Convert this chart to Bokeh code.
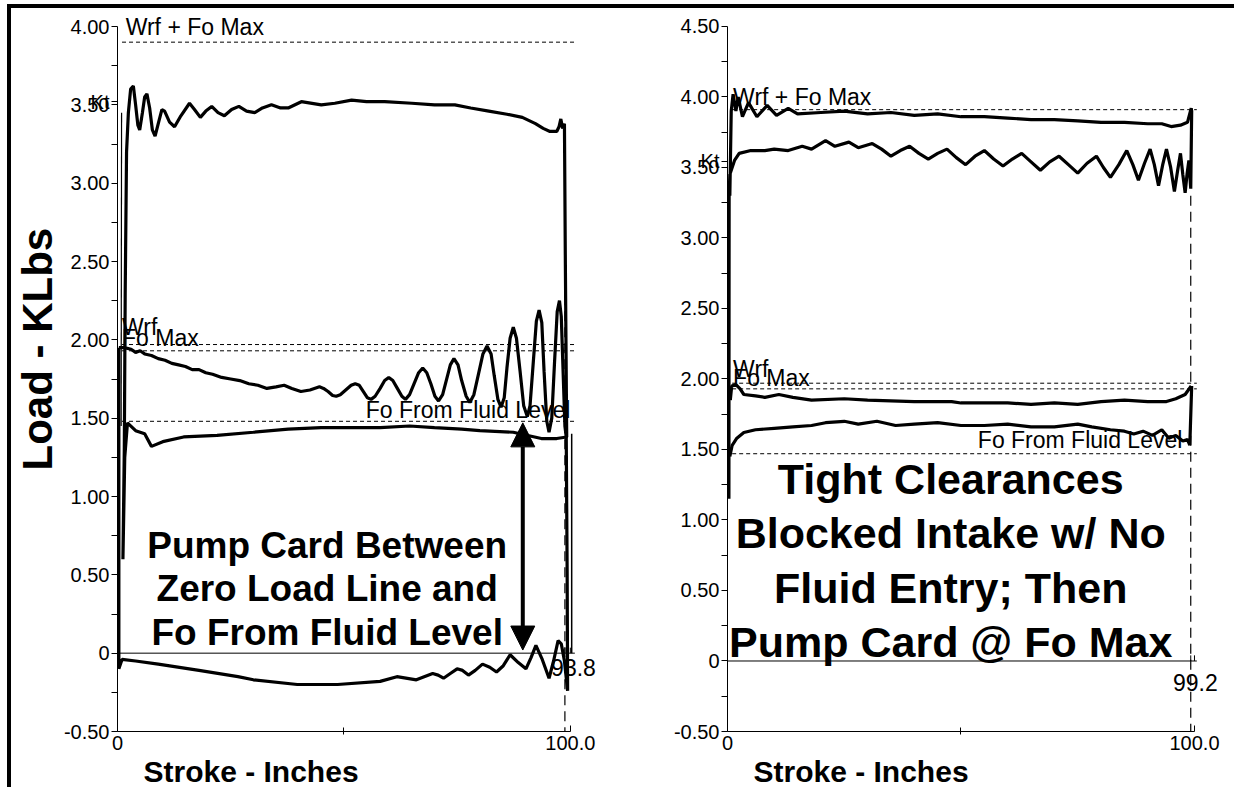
from bokeh.plotting import figure
from bokeh.layouts import row, column
from bokeh.models import (Range1d, FixedTicker, CustomJSTickFormatter, Label, Title,
                          Arrow, NormalHead, Div)
from bokeh.embed import file_html
from bokeh.resources import INLINE

FONT = "Liberation Sans"

# ---------------- Left chart data ----------------
left_y_ticks = [-0.5, 0.0, 0.5, 1.0, 1.5, 2.0, 2.5, 3.0, 3.5, 4.0]
left_y_minor = [-0.25, 0.25, 0.75, 1.25, 1.75, 2.25, 2.75, 3.25, 3.75]
x_ticks = [0, 100]
x_minor = [50]
left_kt_level = 3.52

# Outer card (Kt): upstroke then downstroke
left_kt_x = [1.2, 1.5, 1.7, 2.0, 2.4, 2.9, 3.5, 4.0, 4.5, 4.9, 5.5, 6.0, 6.5, 7.1, 7.7, 8.3,
             9.0, 9.8, 10.4, 11.5, 12.6, 14.0, 15.9, 17.0, 18.3, 19.5, 20.8, 22.2, 23.6, 25.2,
             26.8, 28.5, 30.3, 32.0, 34.0, 36.0, 37.7, 40.6, 45.0, 48.0, 51.7, 55.0, 59.0,
             65.0, 70.0, 74.5, 78.0, 82.0, 86.0, 89.4, 92.3, 94.0, 95.5, 97.0, 97.5, 97.9,
             98.3, 98.7, 98.9, 99.2,
             97.0, 93.6, 87.4, 80.0, 76.0, 70.0, 64.5, 58.0, 53.0, 45.0, 37.7, 30.0, 22.0,
             14.6, 10.0, 7.5, 6.0, 4.0, 2.2, 1.6, 1.2]
left_kt_y = [0.6, 1.3, 2.3, 3.2, 3.45, 3.6, 3.62, 3.5, 3.37, 3.34, 3.45, 3.55, 3.57, 3.48, 3.34,
             3.30, 3.38, 3.47, 3.46, 3.39, 3.36, 3.43, 3.51, 3.47, 3.42, 3.46, 3.49, 3.45, 3.43,
             3.47, 3.49, 3.46, 3.45, 3.48, 3.50, 3.48, 3.48, 3.52, 3.50, 3.51, 3.53, 3.52,
             3.52, 3.51, 3.50, 3.50, 3.48, 3.46, 3.44, 3.42, 3.38, 3.35, 3.33, 3.33, 3.36,
             3.41, 3.35, 3.38, 2.5, 1.38,
             1.37, 1.37, 1.41, 1.42, 1.43, 1.44, 1.45, 1.44, 1.44, 1.44, 1.43, 1.41, 1.39,
             1.38, 1.35, 1.32, 1.40, 1.42, 1.47, 1.25, 0.6]
left_kt_thin_x = [0.8, 0.9]
left_kt_thin_y = [1.45, 3.45]

# Pump card (Wrf): upstroke then downstroke
left_pump_x = [0.3, 1.5, 3.0, 4.0, 5.0, 6.0, 7.5, 9.0, 10.5, 12.0, 13.5, 15.0, 16.5, 18.0,
               19.5, 21.0, 23.0, 25.0, 27.0, 29.0, 31.0, 33.0, 35.0, 36.8, 38.5, 40.5, 42.5,
               44.6, 45.5, 46.5, 47.5, 48.3, 49.2, 50.4, 51.6, 52.5,
               53.4, 54.3, 55.2, 56.0, 56.9, 58.0, 59.0, 59.9,
               60.8, 61.8, 62.8, 63.6, 64.5, 65.5, 66.5, 67.4,
               68.3, 69.2, 70.1, 70.9, 71.8, 72.6, 73.5, 74.3,
               75.2, 76.0, 77.0, 77.8, 78.7, 79.7, 80.7, 81.6,
               82.5, 83.2, 84.0, 84.7, 85.4, 86.0, 86.7, 87.4,
               88.1, 88.9, 89.7, 90.5, 91.1, 91.8, 92.5, 93.1,
               93.7, 94.2, 94.8, 95.3, 95.9, 96.5, 97.1, 97.6,
               98.0, 98.4, 98.8, 99.1, 99.3, 99.4,
               98.7, 98.0, 97.3, 96.3, 95.3, 93.8, 92.4, 91.3, 90.2, 88.5, 86.7, 85.2, 83.7,
               82.2, 80.6, 79.0, 77.5, 76.2, 75.0, 73.5, 72.0, 70.8, 69.6, 66.0,
               61.7, 58.0, 48.6, 39.7, 30.0, 26.6, 18.0, 9.0, 4.0, 1.0, 0.3, 0.3]
left_pump_y = [1.95, 1.95, 1.94, 1.92, 1.93, 1.91, 1.90, 1.88, 1.87, 1.85, 1.84, 1.83, 1.81, 1.81,
               1.79, 1.78, 1.76, 1.75, 1.74, 1.72, 1.71, 1.69, 1.70, 1.71, 1.69, 1.67, 1.68,
               1.70, 1.69, 1.67, 1.645, 1.64, 1.65, 1.68, 1.71, 1.72,
               1.71, 1.67, 1.63, 1.62, 1.64, 1.69, 1.74, 1.76,
               1.74, 1.69, 1.64, 1.62, 1.65, 1.72, 1.79, 1.82,
               1.79, 1.72, 1.64, 1.61, 1.65, 1.74, 1.84, 1.88,
               1.84, 1.74, 1.64, 1.60, 1.65, 1.78, 1.91, 1.96,
               1.91, 1.77, 1.62, 1.57, 1.63, 1.82, 2.01, 2.08,
               2.01, 1.80, 1.58, 1.51, 1.58, 1.85, 2.12, 2.19,
               2.11, 1.80, 1.48, 1.41, 1.50, 1.85, 2.18, 2.25,
               2.15, 1.80, 1.45, 1.38, 0.5, -0.24,
               -0.05, 0.06, 0.08, -0.05, -0.16, -0.04, 0.05, -0.03, -0.10, -0.06, -0.01,
               -0.08, -0.12, -0.09, -0.07, -0.11, -0.14, -0.11, -0.10, -0.13, -0.16, -0.14,
               -0.13, -0.17, -0.15, -0.18, -0.20, -0.20, -0.17, -0.15, -0.11, -0.07, -0.05,
               -0.04, -0.10, 1.95]
left_thin_right_x = [100.3, 100.3]
left_thin_right_y = [0.0, 1.4]

left_wrf_fomax = 3.90
left_wrf = 1.97
left_fomax = 1.93
left_fo_fluid = 1.48
left_marker = 98.8
left_marker_label = "93.8"
left_zero_ticks = [98.8, 100.0]

# ---------------- Right chart data ----------------
right_y_ticks = [-0.5, 0.0, 0.5, 1.0, 1.5, 2.0, 2.5, 3.0, 3.5, 4.0, 4.5]
right_y_minor = [-0.25, 0.25, 0.75, 1.25, 1.75, 2.25, 2.75, 3.25, 3.75, 4.25]
right_kt_level = 3.545

right_top_x = [0.5, 0.8, 1.2, 1.8, 2.3, 3.2, 4.5, 6.3, 8.5, 10.5, 13.0, 15.0, 20.0, 25.0, 30.0,
               35.0, 40.0, 45.0, 50.0, 55.0, 60.0, 65.0, 70.0, 75.0, 80.0, 85.0, 90.0, 93.0,
               95.0, 97.0, 98.5, 99.3]
right_top_y = [3.30, 3.90, 4.02, 3.90, 4.00, 3.86, 3.96, 3.86, 3.94, 3.87, 3.92, 3.88, 3.89, 3.90,
               3.88, 3.89, 3.87, 3.88, 3.86, 3.86, 3.85, 3.84, 3.84, 3.83, 3.82, 3.82, 3.81,
               3.81, 3.79, 3.80, 3.82, 3.92]
right_osc_x = [99.4, 99.2, 99.0, 98.8, 98.4, 98.0, 97.5, 97.0, 96.4, 95.7, 94.9, 94.0, 93.2,
               92.3, 91.4, 90.5, 89.3, 88.0, 86.8, 85.5, 83.8, 82.0, 80.5, 79.0, 77.0, 75.0,
               73.0, 71.0, 69.0, 67.0, 65.0, 63.0, 61.0, 59.0, 57.0, 55.0, 53.0, 51.0, 49.0,
               47.0, 45.0, 43.0, 41.0, 39.0, 37.0, 35.0, 33.0, 31.0, 28.0, 26.0, 23.0, 21.0,
               18.0, 16.0, 13.0, 10.0, 8.0, 5.0, 2.5, 1.5, 0.5, 0.35, 0.3]
right_osc_y = [3.90, 3.35, 3.45, 3.55, 3.45, 3.32, 3.45, 3.60, 3.48, 3.33, 3.50, 3.63, 3.52,
               3.37, 3.52, 3.63, 3.53, 3.41, 3.52, 3.62, 3.52, 3.43, 3.50, 3.58, 3.53, 3.46,
               3.52, 3.58, 3.54, 3.48, 3.54, 3.60, 3.56, 3.51, 3.56, 3.62, 3.58, 3.52, 3.57,
               3.63, 3.60, 3.56, 3.60, 3.65, 3.62, 3.58, 3.63, 3.67, 3.64, 3.68, 3.65, 3.69,
               3.63, 3.65, 3.62, 3.63, 3.62, 3.62, 3.60, 3.55, 3.45, 3.30, 1.15]
right_wrf_x = [0.6, 0.9, 1.8, 2.7, 3.5, 6.0, 8.0, 11.0, 14.0, 18.0, 25.0, 30.0, 40.0, 48.0,
               50.0, 60.0, 65.0, 70.0, 75.0, 80.0, 85.0, 90.0, 94.0, 96.0, 98.0, 99.3]
right_wrf_y = [1.85, 1.95, 1.96, 1.93, 1.89, 1.88, 1.87, 1.89, 1.87, 1.85, 1.86, 1.85, 1.84,
               1.84, 1.83, 1.83, 1.82, 1.83, 1.82, 1.84, 1.85, 1.84, 1.84, 1.86, 1.89, 1.95]
right_fo_x = [0.5, 1.0, 2.0, 3.5, 6.0, 10.0, 14.0, 18.0, 21.0, 25.0, 28.0, 32.0, 36.0, 40.0,
              45.0, 50.0, 55.0, 60.0, 65.0, 70.0, 75.0, 78.0, 82.0, 85.0, 87.0, 89.0, 91.0,
              93.0, 94.5, 96.0, 97.5, 98.5, 99.0, 99.4]
right_fo_y = [1.45, 1.53, 1.58, 1.62, 1.64, 1.65, 1.66, 1.67, 1.69, 1.70, 1.68, 1.70, 1.67,
              1.68, 1.69, 1.67, 1.67, 1.68, 1.66, 1.66, 1.68, 1.66, 1.64, 1.63, 1.61, 1.63,
              1.60, 1.64, 1.58, 1.60, 1.56, 1.57, 1.53, 1.95]

right_wrf_fomax = 3.91
right_wrf = 1.97
right_fomax = 1.93
right_fo_fluid = 1.47
right_marker = 99.2
right_marker_label = "99.2"
right_zero_ticks = [99.2, 100.0]

left_note = ["Pump Card Between", "Zero Load Line and", "Fo From Fluid Level"]
right_note = ["Tight Clearances", "Blocked Intake w/ No", "Fluid Entry; Then", "Pump Card @ Fo Max"]

FIG_H = 779


def make_fig(width, ytop, ymax, yticks, yminor, kt_level, bl, br, show_ylabel):
    p = figure(width=width, height=FIG_H, output_backend="svg", toolbar_location=None,
               x_range=Range1d(0, 106), y_range=Range1d(-0.5, ytop),
               min_border_left=bl, min_border_right=br, min_border_top=5,
               min_border_bottom=0)
    p.grid.visible = False
    p.outline_line_color = None
    p.background_fill_color = "white"
    p.border_fill_color = "white"

    ya = p.yaxis[0]
    ya.bounds = (-0.5, ymax)
    ya.ticker = FixedTicker(ticks=yticks + [kt_level], minor_ticks=yminor)
    ya.formatter = CustomJSTickFormatter(
        args=dict(kt=kt_level),
        code="if (Math.abs(tick - kt) < 1e-6) { return 'Kt'; } return tick == 0 ? '0' : tick.toFixed(2);")
    ya.major_tick_in = 0
    ya.major_tick_out = 6
    ya.minor_tick_in = 0
    ya.minor_tick_out = 6
    ya.major_label_text_font = FONT
    ya.major_label_text_font_size = "20px"
    ya.major_label_text_color = "black"
    ya.major_label_standoff = 2
    ya.axis_line_color = "black"
    ya.major_tick_line_color = "black"
    ya.minor_tick_line_color = "black"
    if show_ylabel:
        p.add_layout(Title(text="Load - KLbs", align="left", offset=261, standoff=0,
                           text_font=FONT, text_font_style="bold", text_font_size="42px",
                           text_color="black"), "left")

    xa = p.xaxis[0]
    xa.bounds = (0, 100)
    xa.ticker = FixedTicker(ticks=x_ticks, minor_ticks=x_minor)
    xa.formatter = CustomJSTickFormatter(code="return tick == 0 ? '0' : tick.toFixed(1);")
    xa.major_tick_in = 6
    xa.major_tick_out = 0
    xa.minor_tick_in = 4
    xa.minor_tick_out = 3
    xa.major_label_text_font = FONT
    xa.major_label_text_font_size = "20px"
    xa.major_label_text_color = "black"
    xa.major_label_standoff = 1
    xa.axis_line_color = "black"
    p.add_layout(Title(text="Stroke - Inches", align="left", offset=26, standoff=0,
                       text_font=FONT, text_font_style="bold", text_font_size="30px",
                       text_color="black"), "below")
    return p


def hline(p, y, x0, x1, dash=None):
    kw = dict(line_color="black", line_width=1)
    if dash:
        kw["line_dash"] = dash
    p.segment(x0=[x0], y0=[y], x1=[x1], y1=[y], **kw)


def lab(p, x, y, text, align="left", size="23px", bold=False):
    p.add_layout(Label(x=x, y=y, text=text, text_align=align, text_baseline="middle",
                       text_font=FONT, text_font_size=size, text_color="black",
                       text_font_style="bold" if bold else "normal"))


# ---------------- Left figure ----------------
p1 = make_fig(605, 4.083, 4.0, left_y_ticks, left_y_minor, left_kt_level, 106, 19, True)
hline(p1, 0.0, 0, 101)
p1.segment(x0=left_zero_ticks, y0=[0.0] * len(left_zero_ticks), x1=left_zero_ticks,
           y1=[0.035] * len(left_zero_ticks), line_color="black", line_width=1)
for v in (left_wrf_fomax, left_wrf, left_fomax, left_fo_fluid):
    hline(p1, v, 1.0, 101, "4 3")
p1.segment(x0=[left_marker], y0=[3.0], x1=[left_marker], y1=[-0.5], line_color="black",
           line_width=1.2, line_dash="10 6")
p1.line(left_kt_x, left_kt_y, line_color="black", line_width=3.2)
p1.line(left_pump_x, left_pump_y, line_color="black", line_width=3.2)
p1.line(left_kt_thin_x, left_kt_thin_y, line_color="black", line_width=1.2)
p1.line(left_thin_right_x, left_thin_right_y, line_color="black", line_width=1.5)

lab(p1, 1.8, 4.0, "Wrf + Fo Max")
lab(p1, 1.0, 2.08, "Wrf")
lab(p1, 1.0, 2.01, "Fo Max")
lab(p1, 100.0, 1.55, "Fo From Fluid Level", align="right")
lab(p1, 100.7, -0.09, left_marker_label, align="center")
for i, t in enumerate(left_note):
    lab(p1, 46.3, 0.69 - i * 0.28, t, align="center", size="37px", bold=True)

p1.add_layout(Arrow(x_start=89.5, y_start=0.02, x_end=89.5, y_end=1.47,
                    line_color="black", line_width=4,
                    start=NormalHead(size=24, fill_color="black", line_color="black"),
                    end=NormalHead(size=24, fill_color="black", line_color="black")))

# ---------------- Right figure ----------------
p2 = make_fig(607, 4.592, 4.5, right_y_ticks, right_y_minor, right_kt_level, 111, 1, False)
hline(p2, 0.0, 0, 100.5)
p2.segment(x0=right_zero_ticks, y0=[0.0] * len(right_zero_ticks), x1=right_zero_ticks,
           y1=[0.04] * len(right_zero_ticks), line_color="black", line_width=1)
for v in (right_wrf_fomax, right_wrf, right_fomax, right_fo_fluid):
    hline(p2, v, 1.0, 100.5, "4 3")
p2.segment(x0=[right_marker], y0=[3.3], x1=[right_marker], y1=[-0.5], line_color="black",
           line_width=1.2, line_dash="10 6")
p2.line(right_top_x + right_osc_x, right_top_y + right_osc_y, line_color="black", line_width=3.2)
p2.line(right_wrf_x, right_wrf_y, line_color="black", line_width=3.2)
p2.line(right_fo_x, right_fo_y, line_color="black", line_width=3.2)

lab(p2, 1.2, 4.0, "Wrf + Fo Max")
lab(p2, 1.2, 2.07, "Wrf")
lab(p2, 1.2, 2.01, "Fo Max")
lab(p2, 97.4, 1.57, "Fo From Fluid Level", align="right")
lab(p2, 100.2, -0.15, right_marker_label, align="center")
for i, t in enumerate(right_note):
    lab(p2, 47.8, 1.29 - i * 0.385, t, align="center", size="43px", bold=True)


def block(w, h, color):
    return Div(text="", width=w, height=h, margin=0, styles={"background-color": color})


layout = column(
    block(1234, 4, "white"),
    row(block(7, 4, "white"), block(1227, 4, "black")),
    row(block(7, FIG_H, "white"), block(4, FIG_H, "black"), p1, p2),
)

open("out.html", "w").write(file_html(layout, INLINE))
